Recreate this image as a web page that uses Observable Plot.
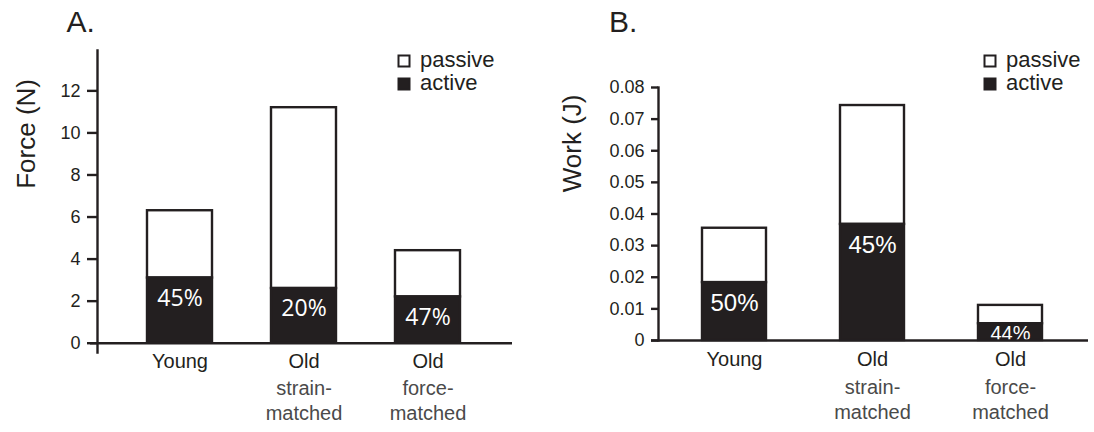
<!DOCTYPE html>
<html>
<head>
<meta charset="utf-8">
<script src="https://cdn.jsdelivr.net/npm/d3@7"></script>
<script src="https://cdn.jsdelivr.net/npm/@observablehq/plot@0.6"></script>
<style>
  html, body { margin: 0; padding: 0; background: white; }
  #wrap { position: relative; width: 1094px; height: 432px; overflow: hidden; }
  #wrap > svg { position: absolute; top: 0; }
  svg.panel path, svg.panel line { stroke-width: 2.4px; }
  svg.panel g[aria-label="y-axis tick label"],
  svg.panel g[aria-label="y-axis tick label"] text { font-size: 18px !important; }
</style>
</head>
<body>
<div id="wrap"></div>
<script>
// ---- data ----
const categories = ["Young", "Old strain-matched", "Old force-matched"];
const labelMain = ["Young", "Old", "Old"];
const labelSub = ["", "strain-\nmatched", "force-\nmatched"];

const forceActive = [3.1, 2.6, 2.2];
const forcePassive = [3.2, 8.6, 2.2];
const forcePct = ["45%", "20%", "47%"];
const forceTicks = [0, 2, 4, 6, 8, 10, 12];

const workActive = [0.0183, 0.0367, 0.0053];
const workPassive = [0.0172, 0.0376, 0.0058];
const workPct = ["50%", "45%", "44%"];
const workTicks = [0, 0.01, 0.02, 0.03, 0.04, 0.05, 0.06, 0.07, 0.08];

const legendItems = ["passive", "active"];
const panelTitles = ["A.", "B."];
const yLabels = ["Force (N)", "Work (J)"];

const INK = "#231f20";
const SANS = "'Liberation Sans', Arial, Helvetica, sans-serif";

function rowsOf(active, passive, pct) {
  return categories.map((c, i) => ({
    cat: c, main: labelMain[i], sub: labelSub[i],
    active: active[i], total: active[i] + passive[i], pct: pct[i]
  }));
}

function panel(opts) {
  const rows = rowsOf(opts.active, opts.passive, opts.pct);
  const ymax = opts.yDomain[1];
  return Plot.plot({
    width: 547, height: 432,
    marginLeft: opts.mL, marginRight: opts.mR, marginTop: opts.mT, marginBottom: opts.mB,
    className: "panel",
    style: {fontFamily: SANS, fontSize: "18px", color: INK, background: "white", overflow: "visible"},
    x: {domain: categories, axis: null, paddingInner: opts.pi, paddingOuter: 0,
        insetLeft: opts.inL, insetRight: opts.inR},
    y: {domain: opts.yDomain, ticks: opts.ticks, tickSize: opts.tickSize, tickPadding: 7,
        line: true, label: null, tickFormat: opts.fmt},
    marks: [
      Plot.barY(rows, {x: "cat", y1: "active", y2: "total", fill: "white", stroke: INK, strokeWidth: 2.4}),
      Plot.barY(rows, {x: "cat", y1: 0, y2: "active", fill: INK, stroke: INK, strokeWidth: 2.4}),
      Plot.text(rows.filter(d => d.active / ymax >= 0.1), {x: "cat", y: "active", text: "pct",
        fill: "white", fontSize: opts.pctSize, fontFamily: opts.pctFont, lineAnchor: "middle", dy: opts.pctDy}),
      Plot.text(rows.filter(d => d.active / ymax < 0.1), {x: "cat", y: "active", text: "pct",
        fill: "white", fontSize: 20, fontFamily: opts.pctFont, lineAnchor: "middle", dy: 10}),
      Plot.ruleY([0], {stroke: INK, strokeWidth: 2.4, insetLeft: -7}),
      Plot.text(rows, {x: "cat", text: "main", frameAnchor: "bottom", lineAnchor: "bottom",
        dy: opts.mainDy, fontSize: 20, fill: INK}),
      Plot.text(rows, {x: "cat", text: "sub", frameAnchor: "bottom", lineAnchor: "bottom",
        dy: opts.subDy, fontSize: 20, lineHeight: 1.25, fill: "#4a4a4a", fontWeight: 300}),
      Plot.text([opts.yLabel], {text: d => d, frameAnchor: "left", rotate: -90,
        dx: opts.labDx, dy: opts.labDy, fontSize: 26, fill: INK, lineAnchor: "middle"})
    ]
  });
}

const wrap = document.getElementById("wrap");

const A = panel({
  active: forceActive, passive: forcePassive, pct: forcePct, ticks: forceTicks,
  yDomain: [-0.442, 13.92], mL: 97, mR: 35, mT: 50, mB: 80,
  pi: 0.476, inL: 49.5, inR: 52.5, tickSize: 10, fmt: d => String(d),
  pctSize: 23, pctFont: "'Open Sans', 'Noto Sans', sans-serif", pctDy: 20.5,
  mainDy: 15, subDy: 67, yLabel: yLabels[0], labDx: -71, labDy: -12.7
});
A.style.left = "0px";
wrap.appendChild(A);

const B = panel({
  active: workActive, passive: workPassive, pct: workPct, ticks: workTicks,
  yDomain: [0, 0.08], mL: 111, mR: 6, mT: 87, mB: 92,
  pi: 0.538, inL: 43, inR: 46, tickSize: 7, fmt: d => d === 0 ? "0" : d.toFixed(2),
  pctSize: 24, pctFont: SANS, pctDy: 21,
  mainDy: 25, subDy: 78, yLabel: yLabels[1], labDx: -85.5, labDy: -21.8
});
B.style.left = "547px";
wrap.appendChild(B);

// ---- overlay: panel titles and legends ----
const ov = d3.select(wrap).append("svg")
  .attr("width", 1094).attr("height", 432)
  .style("left", "0px").style("pointer-events", "none")
  .attr("font-family", SANS).attr("fill", INK);

const titleX = [66.5, 609];
panelTitles.forEach((t, i) => {
  ov.append("text").attr("x", titleX[i]).attr("y", 32).attr("font-size", 30).text(t);
});

const legendX = [397.5, 983.5];
const legendFill = {passive: "white", active: INK};
legendX.forEach(lx => {
  legendItems.forEach((name, j) => {
    const base = 67 + j * 23;
    ov.append("rect").attr("x", lx + 1).attr("y", base - 11.5)
      .attr("width", 11).attr("height", 11)
      .attr("fill", legendFill[name]).attr("stroke", INK).attr("stroke-width", 2);
    ov.append("text").attr("x", lx + 22.5).attr("y", base).attr("font-size", 22).text(name);
  });
});
</script>
</body>
</html>
